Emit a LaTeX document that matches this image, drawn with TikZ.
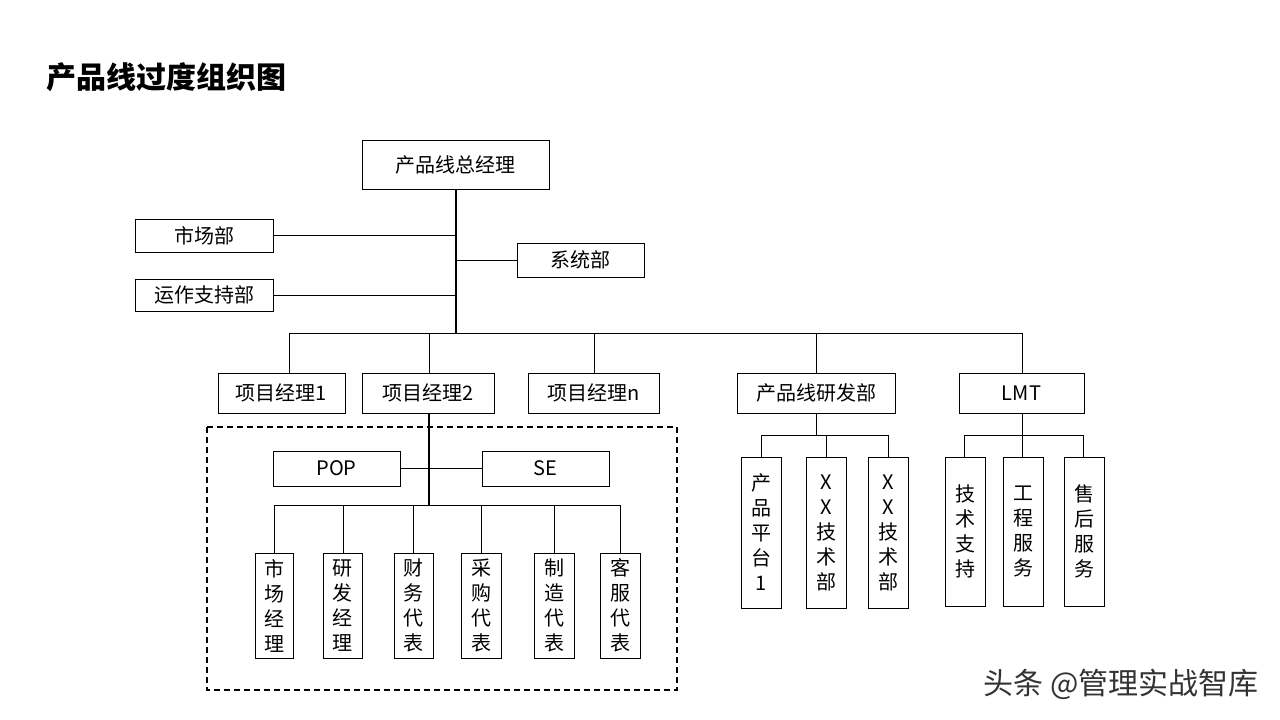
\documentclass[tikz,border=0pt]{standalone}
\usepackage{fontspec}
\setmainfont{Noto Sans CJK SC}
\begin{document}
\begin{tikzpicture}[x=1pt,y=-1pt,
  bx/.style={draw,thick,inner sep=0pt,font=\fontsize{20}{22}\selectfont},
  vb/.style={draw,thick,inner sep=0pt,align=center,font=\fontsize{20}{25}\selectfont},
  ln/.style={thin}]
\useasboundingbox (0,0) rectangle (1280,720);
\node[anchor=west,font=\bfseries\fontsize{30}{32}\selectfont] (title) at (43,77) {产品线过度组织图};
\newcommand\bxat[6]{\node[bx,minimum width=#4-#2,minimum height=#5-#3] (#1) at ({(#2+#4)/2},{(#3+#5)/2}) {#6};}
\newcommand\vbat[6]{\node[vb,minimum width=#4-#2,minimum height=#5-#3] (#1) at ({(#2+#4)/2},{(#3+#5)/2}) {#6};}
\bxat{gm}{362}{140}{549}{189}{产品线总经理}
\bxat{mkt}{135}{219}{273}{252}{市场部}
\bxat{sys}{517}{243}{644}{277}{系统部}
\bxat{ops}{135}{279}{273}{311}{运作支持部}
\bxat{pm1}{218}{373}{345}{413}{项目经理1}
\bxat{pm2}{362}{373}{494}{413}{项目经理2}
\bxat{pmn}{528}{373}{659}{413}{项目经理n}
\bxat{rd}{737}{373}{895}{413}{产品线研发部}
\bxat{lmt}{959}{373}{1084}{413}{LMT}
\bxat{pop}{273}{451}{400}{486}{POP}
\bxat{se}{482}{451}{609}{486}{SE}
\vbat{c1}{255}{553}{293}{658}{市\\场\\经\\理}
\vbat{c2}{323}{553}{362}{658}{研\\发\\经\\理}
\vbat{c3}{394}{553}{433}{658}{财\\务\\代\\表}
\vbat{c4}{461}{553}{501}{658}{采\\购\\代\\表}
\vbat{c5}{534}{553}{574}{658}{制\\造\\代\\表}
\vbat{c6}{600}{553}{640}{658}{客\\服\\代\\表}
\vbat{r1}{741}{457}{781}{608}{产\\品\\平\\台\\1}
\vbat{r2}{806}{457}{846}{608}{X\\X\\技\\术\\部}
\vbat{r3}{868}{457}{908}{608}{X\\X\\技\\术\\部}
\vbat{l1}{945}{457}{985}{606}{技\\术\\支\\持}
\vbat{l2}{1003}{457}{1043}{606}{工\\程\\服\\务}
\vbat{l3}{1064}{457}{1104}{606}{售\\后\\服\\务}
\draw[line width=1.3pt,dash pattern=on 6pt off 4pt] (207,427) rectangle (677,690);
% main trunk
\coordinate (bus) at (456,333);
\draw[line width=1.5pt] (gm.south -| bus) -- (bus);
\draw[ln] (mkt.east) -- (mkt.east -| bus);
\draw[ln] (ops.east) -- (ops.east -| bus);
\draw[ln] (sys.west) -- (sys.west -| bus);
\draw[ln] (289,333) -- (1022,333);
\foreach \n/\x in {pm1/289,pm2/429,pmn/594,rd/816,lmt/1022}
  \draw[ln] (\x,333) -- (\n.north -| \x,0);
% project team
\coordinate (pb) at (429,505);
\draw[line width=1.5pt] (pm2.south -| pb) -- (pb);
\draw[ln] (pop.east) -- (se.west);
\draw[ln] (274,505) -- (620,505);
\foreach \n/\x in {c1/274,c2/343,c3/413,c4/481,c5/554,c6/620}
  \draw[ln] (\x,505) -- (\n.north -| \x,0);
% rd
\draw[ln] (rd.south -| 816,0) -- (816,435);
\draw[ln] (761,435) -- (888,435);
\foreach \n/\x in {r1/761,r2/826,r3/888}
  \draw[ln] (\x,435) -- (\n.north -| \x,0);
% lmt
\draw[ln] (lmt.south -| 1022,0) -- (1022,435);
\draw[ln] (964,435) -- (1083,435);
\foreach \n/\x in {l1/964,l2/1022,l3/1083}
  \draw[ln] (\x,435) -- (\n.north -| \x,0);
\node[anchor=east,text=black!80,font=\fontsize{30}{32}\selectfont] (wm) at (1262,684) {头条 @管理实战智库};
\end{tikzpicture}
\end{document}
